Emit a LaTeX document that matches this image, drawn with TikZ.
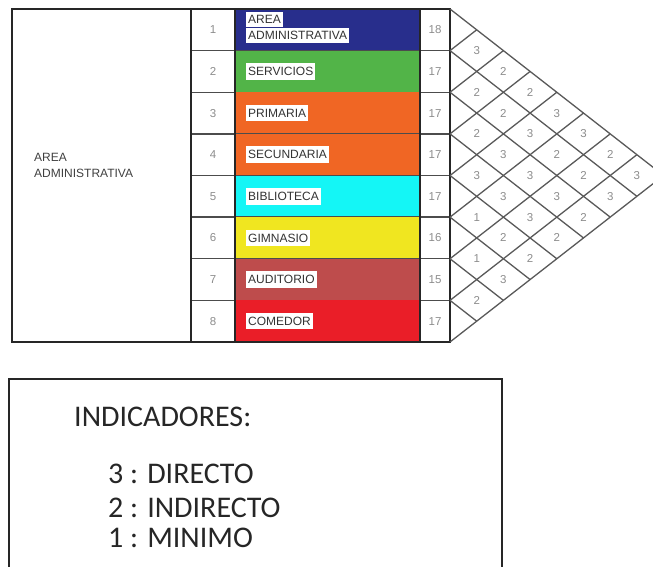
\documentclass[tikz,border=0pt]{standalone}
\usepackage{fontspec}
\setmainfont{Liberation Sans}
\newfontfamily\legendfont{Carlito}
\usetikzlibrary{positioning}

\definecolor{adminblue}{RGB}{40,46,140}
\definecolor{servgreen}{RGB}{82,180,72}
\definecolor{primorange}{RGB}{240,102,36}
\definecolor{bibcyan}{RGB}{20,246,246}
\definecolor{gymyellow}{RGB}{240,230,32}
\definecolor{audred}{RGB}{190,76,76}
\definecolor{comred}{RGB}{234,30,40}

\begin{document}
\begin{tikzpicture}[x=1pt, y=-1pt,
    frame/.style={draw=black!85, line width=1.8pt},
    rowsep/.style={draw=black!70, line width=1.3pt},
    gridline/.style={draw=black!65, line width=1.3pt},
    num/.style={font=\fontsize{11.5}{13}\selectfont, text=black!45},
    tag/.style={font=\fontsize{12}{14}\selectfont, text=black!80, fill=white, inner xsep=2pt, inner ysep=4pt, anchor=west},
    legend/.style={font=\legendfont\fontsize{30}{36}\selectfont, text=black!85, anchor=base west, inner sep=0pt}
]
\useasboundingbox (0,0) rectangle (653,567);
\clip (0,0) rectangle (653,567);
\def\rowh{41.625}
\def\hw{26.7}

% rows of the table
\foreach \i/\col/\tot in {1/adminblue/18, 2/servgreen/17, 3/primorange/17, 4/primorange/17,
                          5/bibcyan/17, 6/gymyellow/16, 7/audred/15, 8/comred/17}{
  \pgfmathsetmacro\yt{9+(\i-1)*\rowh}
  \pgfmathsetmacro\yb{9+\i*\rowh}
  \pgfmathsetmacro\yc{9+(\i-0.5)*\rowh}
  \fill[\col] (235,\yt) rectangle (420,\yb);
  \draw[rowsep] (191,\yb) -- (450,\yb);
  \node[num] (n-\i) at (213,\yc) {\i};
  \node[num] (t-\i) at (435,\yc) {\tot};
}

% area names
\node[tag, inner ysep=3.5pt, anchor=south west] (a-1) at (246,27.5) {AREA};
\node[tag, inner ysep=3.5pt, anchor=north west] (b-1) at (a-1.south west) {ADMINISTRATIVA};
\foreach \i/\lab in {2/SERVICIOS, 3/PRIMARIA, 4/SECUNDARIA, 5/BIBLIOTECA,
                     6/GIMNASIO, 7/AUDITORIO, 8/COMEDOR}{
  \pgfmathsetmacro\yc{9+(\i-0.5)*\rowh}
  \node[tag] (a-\i) at (246,\yc) {\lab};
}

% frame
\draw[frame] (12,9) rectangle (450,342);
\foreach \x in {191,235,420}
  \draw[frame] (\x,9) -- (\x,342);
\node[font=\fontsize{12}{16}\selectfont, text=black!75, align=left, anchor=west, inner sep=0pt]
  (area) at (34,165.7) {AREA\\ADMINISTRATIVA};

% relation matrix
\foreach \k in {0,...,8}{
  \draw[gridline] (450,9+\k*\rowh) -- ++({(8-\k)*\hw},{(8-\k)*\rowh/2});
  \draw[gridline] (450,9+\k*\rowh) -- ++({\k*\hw},{-\k*\rowh/2});
}
\foreach \i/\j/\v in {1/2/3, 2/3/2, 3/4/2, 4/5/3, 5/6/1, 6/7/1, 7/8/2,
                      1/3/2, 2/4/2, 3/5/3, 4/6/3, 5/7/2, 6/8/3,
                      1/4/2, 2/5/3, 3/6/3, 4/7/3, 5/8/2,
                      1/5/3, 2/6/2, 3/7/3, 4/8/2,
                      1/6/3, 2/7/2, 3/8/2,
                      1/7/2, 2/8/3,
                      1/8/3}
  \node[num] (v-\i-\j) at ({450+(\j-\i)*\hw},{9+(\i+\j-1)*\rowh/2}) {\v};

% legend
\draw[frame] (9,379) rectangle (502,620);
\node[legend] (ind) at (74,426) {INDICADORES:};
\node[legend] (l-3) at (108,483) {3 : DIRECTO};
\node[legend] (l-2) at (108,517) {2 : INDIRECTO};
\node[legend] (l-1) at (108,547) {1 : MINIMO};
\end{tikzpicture}
\end{document}
